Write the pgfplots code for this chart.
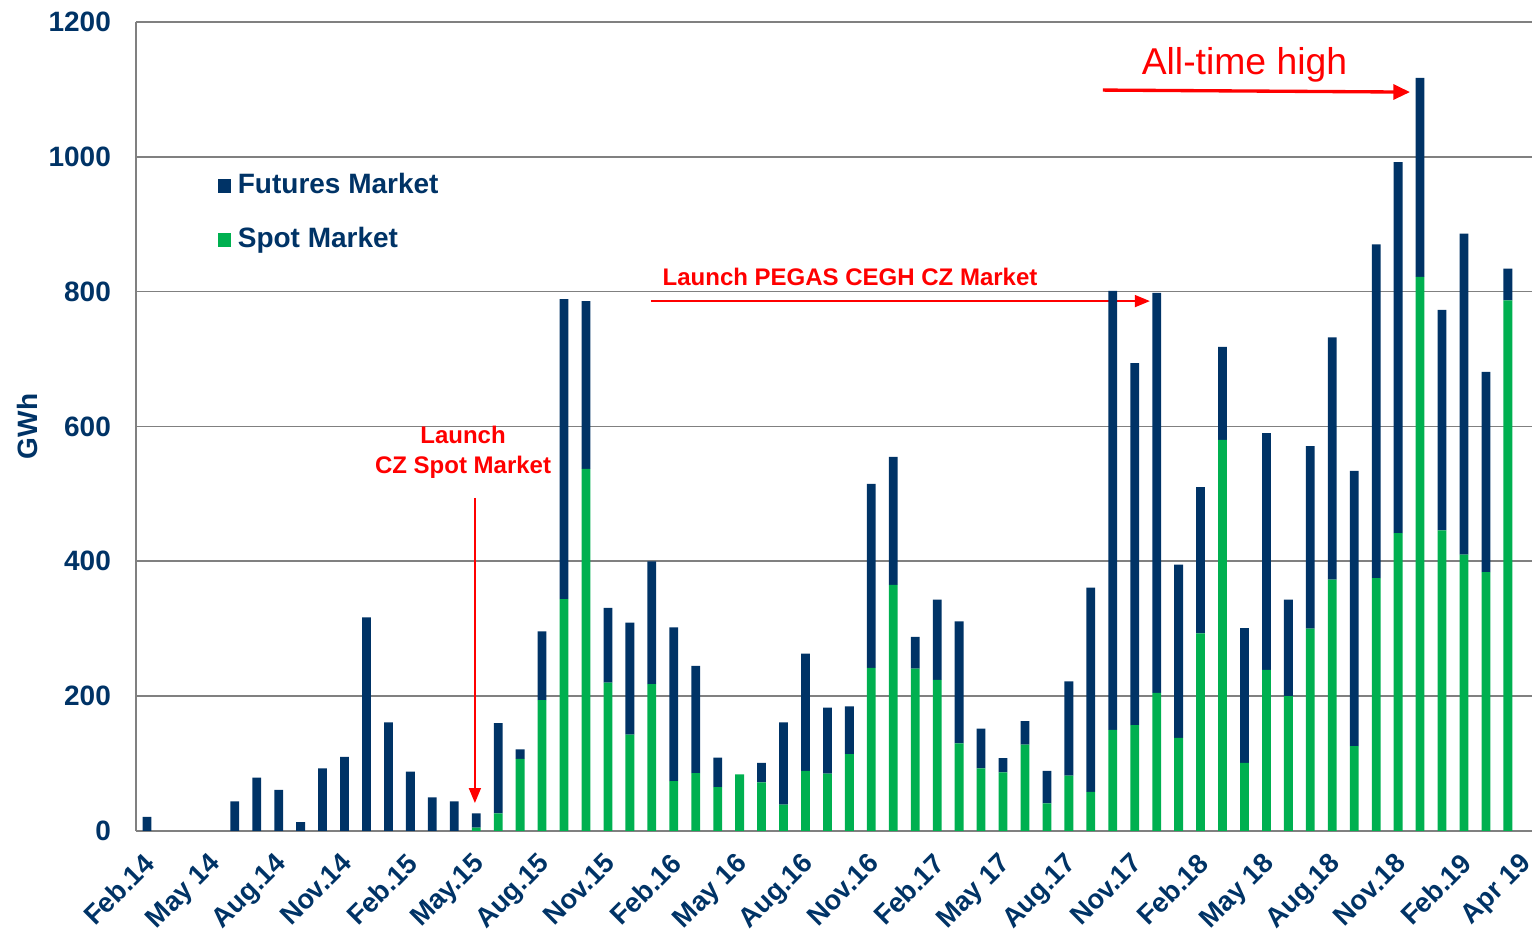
\documentclass[border=0pt]{standalone}
\usepackage{fontspec}
\setmainfont{Liberation Sans}
\usepackage{pgfplots}
\usepackage{pgfplotstable}
\pgfplotsset{compat=1.18}
\usetikzlibrary{arrows.meta}
\definecolor{navy}{RGB}{0,51,102}
\definecolor{spotgreen}{RGB}{0,176,80}
\definecolor{gridgray}{RGB}{128,128,128}

% month index (0 = Feb.14), spot GWh, futures GWh
\pgfplotstableread{
i  spot fut
0  0    21
1  0    0
2  0    0
3  0    0
4  0    44
5  0    79
6  0    61
7  0    13
8  0    93
9  0    110
10 0    317
11 0    161
12 0    88
13 0    50
14 0    44
15 5    21
16 26   134
17 107  14
18 194  102
19 344  445
20 537  249
21 220  111
22 143  166
23 218  182
24 74   228
25 86   159
26 65   44
27 84   0
28 72   29
29 39   122
30 89   174
31 85   98
32 114  71
33 242  273
34 365  190
35 241  47
36 224  119
37 130  181
38 93   59
39 87   21
40 128  35
41 41   48
42 82   140
43 58   303
44 150  651
45 157  537
46 205  593
47 138  257
48 293  217
49 580  138
50 101  200
51 239  351
52 200  143
53 300  271
54 373  359
55 126  408
56 375  495
57 442  550
58 822  295
59 446  327
60 410  476
61 384  297
62 787  47
}\data

\begin{document}
\begin{tikzpicture}
\begin{axis}[
  name=ax,
  scale only axis, width=418.8pt, height=242.7pt,
  ybar stacked, bar width=0.4,
  xmin=-0.5, xmax=63.1, ymin=0, ymax=1200,
  ytick={0,200,...,1200},
  xtick={0,3,6,9,12,15,18,21,24,27,30,33,36,39,42,45,48,51,54,57,60,62.7},
  xticklabels={Feb.14,May 14,Aug.14,Nov.14,Feb.15,May.15,Aug.15,Nov.15,Feb.16,May 16,Aug.16,Nov.16,Feb.17,May 17,Aug.17,Nov.17,Feb.18,May 18,Aug.18,Nov.18,Feb.19,Apr 19},
  major tick length=0pt,
  axis lines*=left,
  axis line style={gridgray, line width=0.6pt},
  ymajorgrids, grid style={gridgray, line width=0.5pt},
  /pgf/number format/assume math mode=true,
  /pgf/number format/1000 sep={},
  yticklabel style={font=\bfseries\fontsize{8.4}{10}\selectfont, text=navy, xshift=-4pt},
  xticklabel style={font=\bfseries\fontsize{8.2}{10}\selectfont, text=navy, rotate=45, anchor=north east, inner sep=0pt, xshift=-2pt},
  xticklabel shift=4.5pt,
  ylabel={GWh},
  ylabel style={font=\bfseries\fontsize{8.4}{10}\selectfont, text=navy, at={(axis description cs:-0.078,0.5)}, anchor=center},
  clip=false,
  reverse legend,
  legend style={draw=none, fill=none, at={(0.051,0.83)}, anchor=north west,
    font=\bfseries\fontsize{8.4}{10}\selectfont, text=navy, row sep=4.6pt},
  legend cell align=left,
  legend image code/.code={\fill[#1] (0pt,-2pt) rectangle (4pt,2pt);},
]
\addplot[fill=spotgreen, draw=none] table[x=i, y=spot] {\data};
\addplot[fill=navy, draw=none] table[x=i, y=fut] {\data};
\legend{Spot Market, Futures Market}

\node[text=red, font=\fontsize{11.2}{13}\selectfont] at (axis cs:50,1136) {All-time high};
\draw[red, line width=1pt, -{Triangle[length=5pt,width=4.5pt]}] (axis cs:43.55,1099) -- (axis cs:57.54,1096);
\node[text=red, font=\bfseries\fontsize{7.2}{9}\selectfont] at (axis cs:32.03,822) {Launch PEGAS CEGH CZ Market};
\draw[red, line width=0.5pt, -{Triangle[length=4.5pt,width=3.6pt]}] (axis cs:22.96,786) -- (axis cs:45.69,786);
\node[text=red, font=\bfseries\fontsize{7.2}{9}\selectfont, align=center] at (axis cs:14.4,562) {Launch\\CZ Spot Market};
\draw[red, line width=0.5pt, -{Triangle[length=4.5pt,width=3.6pt]}] (axis cs:14.94,494) -- (axis cs:14.94,41.5);
\end{axis}
\pgfresetboundingbox
\path ([shift={(-40.8pt,-30.3pt)}]ax.south west) rectangle ([shift={(0pt,6.6pt)}]ax.north east);
\end{tikzpicture}
\end{document}
